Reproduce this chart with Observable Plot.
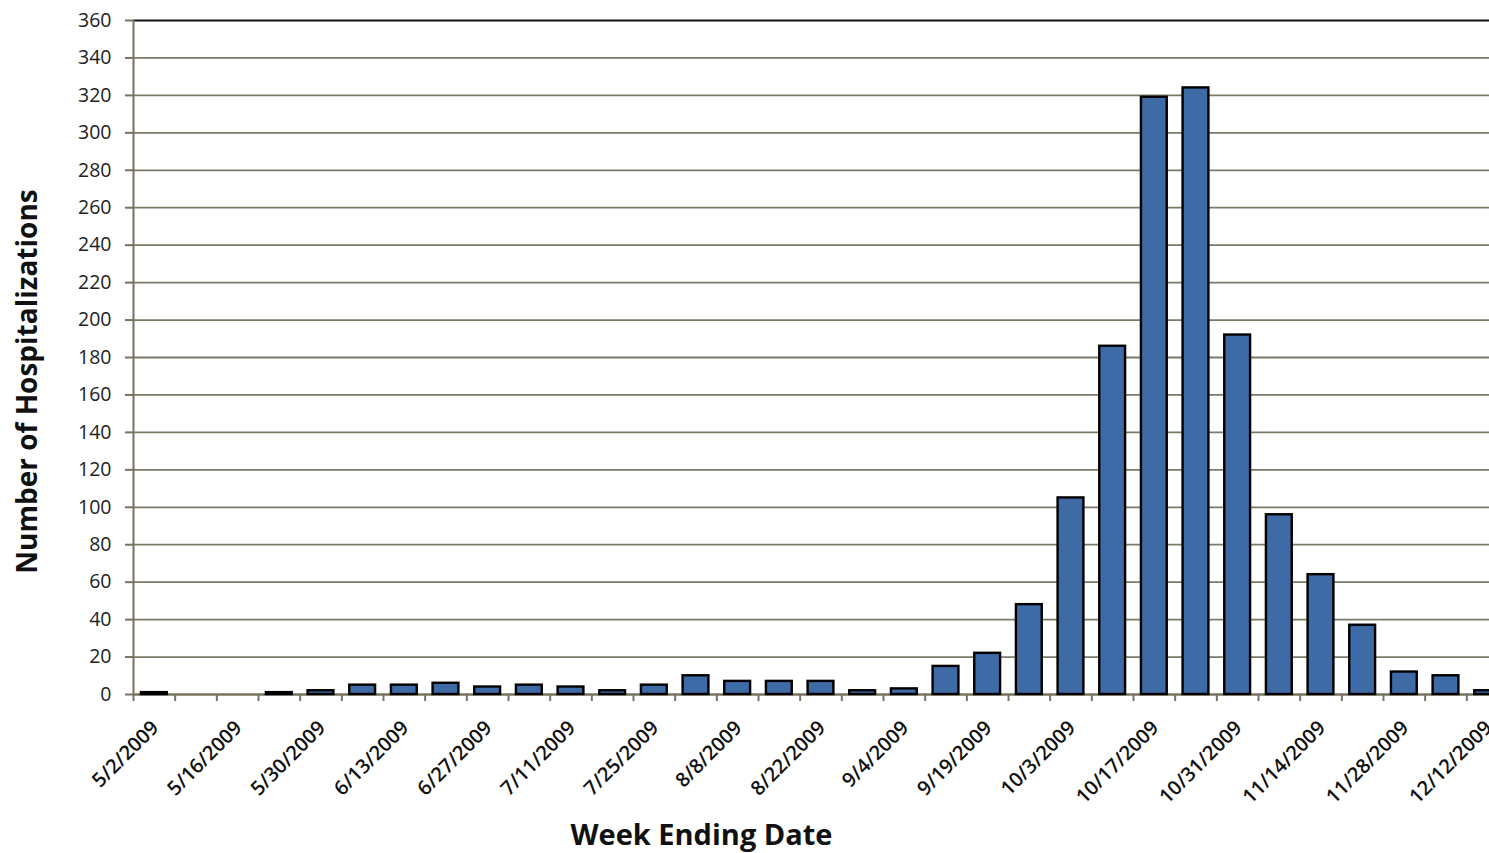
<!DOCTYPE html>
<html><head><meta charset="utf-8">
<script src="https://cdn.jsdelivr.net/npm/d3@7"></script>
<script src="https://cdn.jsdelivr.net/npm/@observablehq/plot@0.6"></script>
<style>
html,body{margin:0;padding:0;background:#fff;overflow:hidden;width:1489px;height:853px;}
#chart svg{max-width:none !important;height:853px !important;display:block;}
</style></head><body><div id="chart"></div>
<script>
const weeks = ["5/2/2009","5/9/2009","5/16/2009","5/23/2009","5/30/2009","6/6/2009","6/13/2009","6/20/2009","6/27/2009","7/4/2009","7/11/2009","7/18/2009","7/25/2009","8/1/2009","8/8/2009","8/15/2009","8/22/2009","8/29/2009","9/4/2009","9/12/2009","9/19/2009","9/26/2009","10/3/2009","10/10/2009","10/17/2009","10/24/2009","10/31/2009","11/7/2009","11/14/2009","11/21/2009","11/28/2009","12/5/2009","12/12/2009"];
const hospitalizations = [1,0,0,1,2,5,5,6,4,5,4,2,5,10,7,7,7,2,3,15,22,48,105,186,319,324,192,96,64,37,12,10,2];
const labeledWeeks = ["5/2/2009","5/16/2009","5/30/2009","6/13/2009","6/27/2009","7/11/2009","7/25/2009","8/8/2009","8/22/2009","9/4/2009","9/19/2009","10/3/2009","10/17/2009","10/31/2009","11/14/2009","11/28/2009","12/12/2009"];
const yTicks = [0,20,40,60,80,100,120,140,160,180,200,220,240,260,280,300,320,340,360];
const yLabel = "Number of Hospitalizations";
const xLabel = "Week Ending Date";

const data = weeks.map((w, i) => ({week: w, value: hospitalizations[i]}));

const W = 1508, ML = 133, MT = 20, H = 853, MB = 159;
const step = (W - ML) / weeks.length;
const inset = step * 0.19;
const grid = "#7b7a69";
const axisColor = "#77735f";

const chart = Plot.plot({
  width: W, height: H,
  marginLeft: ML, marginRight: 0, marginTop: MT, marginBottom: MB,
  style: {fontFamily: "'Open Sans', sans-serif", background: "white", overflow: "visible", maxWidth: "none"},
  x: {domain: weeks, padding: 0, round: false, axis: null},
  y: {domain: [0, 360], axis: null},
  marks: [
    Plot.gridY(yTicks.slice(0, -1), {stroke: grid, strokeOpacity: 1, strokeWidth: 1.8}),
    Plot.ruleY([360], {stroke: "#111", strokeWidth: 2.2}),
    Plot.ruleX([weeks[0]], {dx: -step / 2, stroke: axisColor, strokeWidth: 2}),
    Plot.ruleX(weeks, {dx: -step / 2, y1: 0, y2: 0, insetBottom: -7, stroke: axisColor, strokeWidth: 2}),
    Plot.ruleY([0], {stroke: axisColor, strokeWidth: 2}),
    Plot.barY(data, {x: "week", y: "value", insetLeft: inset, insetRight: inset, fill: "#3e6aa5", stroke: "#000", strokeWidth: 2.4}),
    Plot.axisY(yTicks, {tickSize: 8, tickPadding: 14, fontSize: 19.5, label: null, stroke: axisColor, fill: "#222", strokeWidth: 2}),
    Plot.axisX(labeledWeeks, {tickSize: 0, tickPadding: 30, tickRotate: -45, dx: 1, fontSize: 20, fontWeight: 650, label: null, fill: "#111"}),
    Plot.text([yLabel], {text: d => d, frameAnchor: "left", textAnchor: "middle", lineAnchor: "middle", rotate: -90, dx: -105, dy: 24, fontSize: 28, fontWeight: 700, fill: "#111"}),
    Plot.text([xLabel], {text: d => d, frameAnchor: "bottom", textAnchor: "middle", lineAnchor: "middle", dx: 701 - (ML + W) / 2, dy: 141, fontSize: 29, fontWeight: 700, fill: "#111"})
  ]
});
document.getElementById("chart").appendChild(chart);
</script>
</body></html>
